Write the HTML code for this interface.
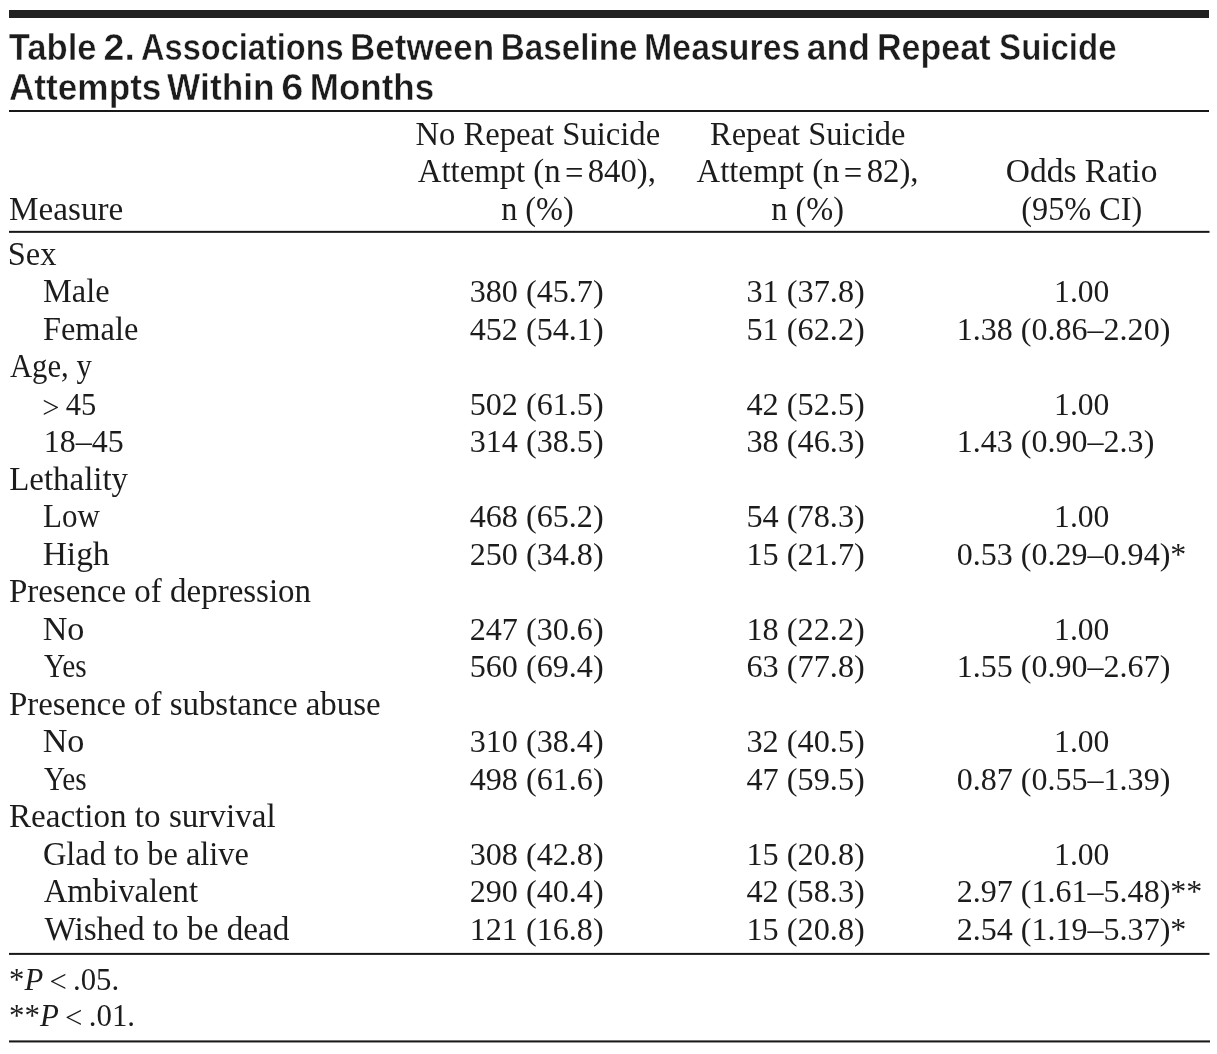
<!DOCTYPE html>
<html><head><meta charset="utf-8"><style>
html,body{margin:0;padding:0;background:#fff;width:1217px;height:1054px;overflow:hidden}
svg{display:block;will-change:transform}

text{font-family:"Liberation Serif",serif;font-size:33.5px;fill:#1c1c1c}
text.n{font-size:32px}
text.ti{font-family:"Liberation Sans",sans-serif;font-weight:bold;font-size:36px;stroke:#fff;stroke-width:0.45px}

</style></head><body>
<svg width="1217" height="1054" viewBox="0 0 1217 1054">
<rect x="9" y="10" width="1200" height="8" fill="#222"/>
<rect x="9" y="110" width="1200" height="2" fill="#181818"/>
<rect x="9" y="230.85" width="1200.5" height="2" fill="#181818"/>
<rect x="9" y="952.9" width="1200.5" height="2" fill="#181818"/>
<rect x="9" y="1040.4" width="1201" height="2.05" fill="#181818"/>
<text class="ti" x="8.68" y="60" textLength="87.87" lengthAdjust="spacingAndGlyphs">Table</text>
<text class="ti" x="103.64" y="60" textLength="31.26" lengthAdjust="spacingAndGlyphs">2.</text>
<text class="ti" x="141.07" y="60" textLength="202.58" lengthAdjust="spacingAndGlyphs">Associations</text>
<text class="ti" x="350.02" y="60" textLength="144.16" lengthAdjust="spacingAndGlyphs">Between</text>
<text class="ti" x="500.76" y="60" textLength="136.80" lengthAdjust="spacingAndGlyphs">Baseline</text>
<text class="ti" x="644.11" y="60" textLength="156.24" lengthAdjust="spacingAndGlyphs">Measures</text>
<text class="ti" x="806.77" y="60" textLength="63.06" lengthAdjust="spacingAndGlyphs">and</text>
<text class="ti" x="877.00" y="60" textLength="113.56" lengthAdjust="spacingAndGlyphs">Repeat</text>
<text class="ti" x="999.12" y="60" textLength="117.50" lengthAdjust="spacingAndGlyphs">Suicide</text>
<text class="ti" x="8.98" y="100" textLength="152.45" lengthAdjust="spacingAndGlyphs">Attempts</text>
<text class="ti" x="167.11" y="100" textLength="107.43" lengthAdjust="spacingAndGlyphs">Within</text>
<text class="ti" x="281.24" y="100" textLength="22.15" lengthAdjust="spacingAndGlyphs">6</text>
<text class="ti" x="309.73" y="100" textLength="124.45" lengthAdjust="spacingAndGlyphs">Months</text>
<text class="b" x="9.11" y="220" textLength="114.17" lengthAdjust="spacingAndGlyphs">Measure</text>
<text class="b" x="415.43" y="145" textLength="244.73" lengthAdjust="spacingAndGlyphs">No Repeat Suicide</text>
<text class="b" x="417.85" y="182" textLength="238.03" lengthAdjust="spacingAndGlyphs">Attempt (n <tspan dx="1.6" dy="2">=</tspan><tspan dx="1.6" dy="-2"> 840</tspan>),</text>
<text class="b" x="501.18" y="220" textLength="72.56" lengthAdjust="spacingAndGlyphs">n (%)</text>
<text class="b" x="710.03" y="145" textLength="195.36" lengthAdjust="spacingAndGlyphs">Repeat Suicide</text>
<text class="b" x="696.45" y="182" textLength="222.13" lengthAdjust="spacingAndGlyphs">Attempt (n <tspan dx="1.6" dy="2">=</tspan><tspan dx="1.6" dy="-2"> 82</tspan>),</text>
<text class="b" x="771.18" y="220" textLength="72.76" lengthAdjust="spacingAndGlyphs">n (%)</text>
<text class="b" x="1005.80" y="182" textLength="151.59" lengthAdjust="spacingAndGlyphs">Odds Ratio</text>
<text class="b" x="1021.36" y="220" textLength="120.88" lengthAdjust="spacingAndGlyphs">(95% CI)</text>
<text class="b" x="7.72" y="265" textLength="48.66" lengthAdjust="spacingAndGlyphs">Sex</text>
<text class="b" x="43.03" y="302" textLength="66.52" lengthAdjust="spacingAndGlyphs">Male</text>
<text class="b" x="43.03" y="340" textLength="95.24" lengthAdjust="spacingAndGlyphs">Female</text>
<text class="b" x="9.97" y="377" textLength="81.79" lengthAdjust="spacingAndGlyphs">Age, y</text>
<text class="n" x="42.33" y="415" textLength="53.82" lengthAdjust="spacingAndGlyphs"><tspan dy="2.7">&gt;</tspan><tspan dy="-2.7"> 45</tspan></text>
<text class="n" x="43.75" y="452" textLength="79.89" lengthAdjust="spacingAndGlyphs">18–45</text>
<text class="b" x="9.22" y="490" textLength="118.87" lengthAdjust="spacingAndGlyphs">Lethality</text>
<text class="b" x="43.07" y="527" textLength="56.87" lengthAdjust="spacingAndGlyphs">Low</text>
<text class="b" x="42.70" y="565" textLength="66.90" lengthAdjust="spacingAndGlyphs">High</text>
<text class="b" x="8.92" y="602" textLength="302.16" lengthAdjust="spacingAndGlyphs">Presence of depression</text>
<text class="b" x="42.68" y="640" textLength="41.75" lengthAdjust="spacingAndGlyphs">No</text>
<text class="b" x="43.96" y="677" textLength="42.63" lengthAdjust="spacingAndGlyphs">Yes</text>
<text class="b" x="8.92" y="715" textLength="371.76" lengthAdjust="spacingAndGlyphs">Presence of substance abuse</text>
<text class="b" x="42.68" y="752" textLength="41.75" lengthAdjust="spacingAndGlyphs">No</text>
<text class="b" x="43.96" y="790" textLength="42.63" lengthAdjust="spacingAndGlyphs">Yes</text>
<text class="b" x="8.91" y="827" textLength="266.69" lengthAdjust="spacingAndGlyphs">Reaction to survival</text>
<text class="b" x="42.95" y="865" textLength="205.99" lengthAdjust="spacingAndGlyphs">Glad to be alive</text>
<text class="b" x="43.66" y="902" textLength="154.41" lengthAdjust="spacingAndGlyphs">Ambivalent</text>
<text class="b" x="44.40" y="940" textLength="245.03" lengthAdjust="spacingAndGlyphs">Wished to be dead</text>
<text class="n c1" x="469.69" y="302" textLength="133.93" lengthAdjust="spacingAndGlyphs">380 (45.7)</text>
<text class="n c2" x="746.49" y="302" textLength="118.34" lengthAdjust="spacingAndGlyphs">31 (37.8)</text>
<text class="n" x="1054.08" y="302" textLength="55.35" lengthAdjust="spacingAndGlyphs">1.00</text>
<text class="n c1" x="469.69" y="340" textLength="133.93" lengthAdjust="spacingAndGlyphs">452 (54.1)</text>
<text class="n c2" x="746.49" y="340" textLength="118.34" lengthAdjust="spacingAndGlyphs">51 (62.2)</text>
<text class="n c3" x="956.75" y="340" textLength="213.57" lengthAdjust="spacingAndGlyphs">1.38 (0.86–2.20)</text>
<text class="n c1" x="469.69" y="415" textLength="133.93" lengthAdjust="spacingAndGlyphs">502 (61.5)</text>
<text class="n c2" x="746.49" y="415" textLength="118.34" lengthAdjust="spacingAndGlyphs">42 (52.5)</text>
<text class="n" x="1054.08" y="415" textLength="55.35" lengthAdjust="spacingAndGlyphs">1.00</text>
<text class="n c1" x="469.69" y="452" textLength="133.93" lengthAdjust="spacingAndGlyphs">314 (38.5)</text>
<text class="n c2" x="746.49" y="452" textLength="118.34" lengthAdjust="spacingAndGlyphs">38 (46.3)</text>
<text class="n c3" x="956.75" y="452" textLength="197.55" lengthAdjust="spacingAndGlyphs">1.43 (0.90–2.3)</text>
<text class="n c1" x="469.69" y="527" textLength="133.93" lengthAdjust="spacingAndGlyphs">468 (65.2)</text>
<text class="n c2" x="746.49" y="527" textLength="118.34" lengthAdjust="spacingAndGlyphs">54 (78.3)</text>
<text class="n" x="1054.08" y="527" textLength="55.35" lengthAdjust="spacingAndGlyphs">1.00</text>
<text class="n c1" x="469.69" y="565" textLength="133.93" lengthAdjust="spacingAndGlyphs">250 (34.8)</text>
<text class="n c2" x="746.49" y="565" textLength="118.34" lengthAdjust="spacingAndGlyphs">15 (21.7)</text>
<text class="n c3" x="956.75" y="565" textLength="229.59" lengthAdjust="spacingAndGlyphs">0.53 (0.29–0.94)*</text>
<text class="n c1" x="469.69" y="640" textLength="133.93" lengthAdjust="spacingAndGlyphs">247 (30.6)</text>
<text class="n c2" x="746.49" y="640" textLength="118.34" lengthAdjust="spacingAndGlyphs">18 (22.2)</text>
<text class="n" x="1054.08" y="640" textLength="55.35" lengthAdjust="spacingAndGlyphs">1.00</text>
<text class="n c1" x="469.69" y="677" textLength="133.93" lengthAdjust="spacingAndGlyphs">560 (69.4)</text>
<text class="n c2" x="746.49" y="677" textLength="118.34" lengthAdjust="spacingAndGlyphs">63 (77.8)</text>
<text class="n c3" x="956.75" y="677" textLength="213.57" lengthAdjust="spacingAndGlyphs">1.55 (0.90–2.67)</text>
<text class="n c1" x="469.69" y="752" textLength="133.93" lengthAdjust="spacingAndGlyphs">310 (38.4)</text>
<text class="n c2" x="746.49" y="752" textLength="118.34" lengthAdjust="spacingAndGlyphs">32 (40.5)</text>
<text class="n" x="1054.08" y="752" textLength="55.35" lengthAdjust="spacingAndGlyphs">1.00</text>
<text class="n c1" x="469.69" y="790" textLength="133.93" lengthAdjust="spacingAndGlyphs">498 (61.6)</text>
<text class="n c2" x="746.49" y="790" textLength="118.34" lengthAdjust="spacingAndGlyphs">47 (59.5)</text>
<text class="n c3" x="956.75" y="790" textLength="213.57" lengthAdjust="spacingAndGlyphs">0.87 (0.55–1.39)</text>
<text class="n c1" x="469.69" y="865" textLength="133.93" lengthAdjust="spacingAndGlyphs">308 (42.8)</text>
<text class="n c2" x="746.49" y="865" textLength="118.34" lengthAdjust="spacingAndGlyphs">15 (20.8)</text>
<text class="n" x="1054.08" y="865" textLength="55.35" lengthAdjust="spacingAndGlyphs">1.00</text>
<text class="n c1" x="469.69" y="902" textLength="133.93" lengthAdjust="spacingAndGlyphs">290 (40.4)</text>
<text class="n c2" x="746.49" y="902" textLength="118.34" lengthAdjust="spacingAndGlyphs">42 (58.3)</text>
<text class="n c3" x="956.75" y="902" textLength="245.61" lengthAdjust="spacingAndGlyphs">2.97 (1.61–5.48)**</text>
<text class="n c1" x="469.69" y="940" textLength="133.93" lengthAdjust="spacingAndGlyphs">121 (16.8)</text>
<text class="n c2" x="746.49" y="940" textLength="118.34" lengthAdjust="spacingAndGlyphs">15 (20.8)</text>
<text class="n c3" x="956.75" y="940" textLength="229.59" lengthAdjust="spacingAndGlyphs">2.54 (1.19–5.37)*</text>
<text class="n" x="9.12" y="990" textLength="109.95" lengthAdjust="spacingAndGlyphs">*<tspan font-style="italic">P</tspan> <tspan dy="1.5">&lt;</tspan><tspan dy="-1.5"> .05.</tspan></text>
<text class="n" x="9.11" y="1026" textLength="125.97" lengthAdjust="spacingAndGlyphs">**<tspan font-style="italic">P</tspan> <tspan dy="1.5">&lt;</tspan><tspan dy="-1.5"> .01.</tspan></text>
</svg>
</body></html>
